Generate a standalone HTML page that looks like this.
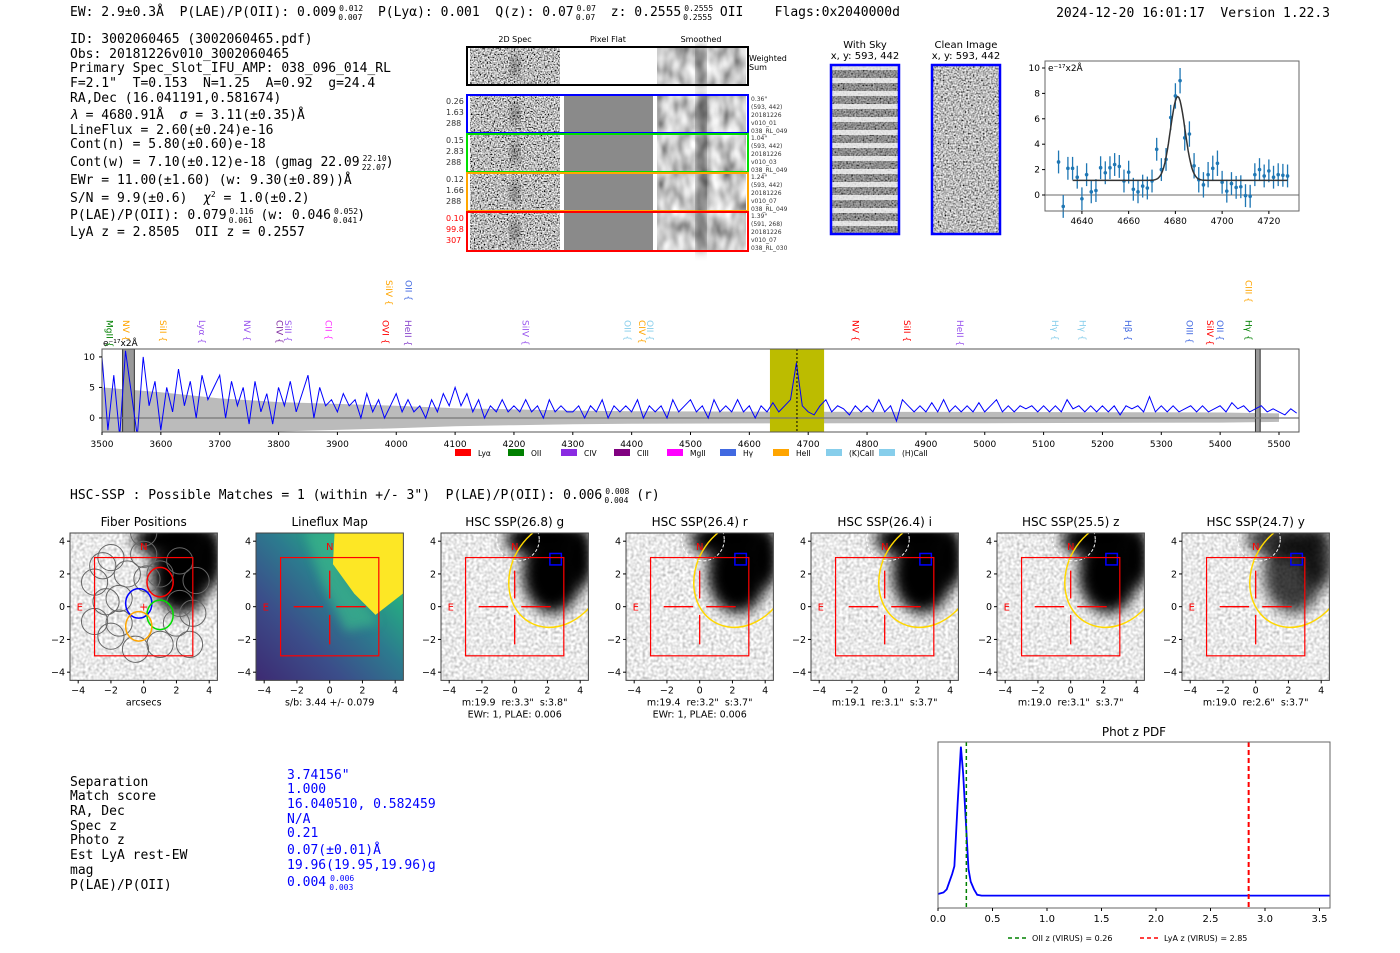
<!DOCTYPE html>
<html><head><meta charset="utf-8">
<style>
html,body{margin:0;padding:0;background:#fff;}
svg{display:block;}
text{white-space:pre;}
.mono{font-family:"DejaVu Sans Mono","Liberation Mono",monospace;}
.sans{font-family:"DejaVu Sans","Liberation Sans",sans-serif;}
</style></head>
<body>
<svg id="root" width="1400" height="953" viewBox="0 0 1400 953" xmlns="http://www.w3.org/2000/svg" xml:space="preserve">
<defs>
<filter id="fNoise" x="0" y="0" width="1" height="1"><feTurbulence type="fractalNoise" baseFrequency="0.7" numOctaves="1" seed="4"/><feColorMatrix type="saturate" values="0"/><feComponentTransfer><feFuncR type="linear" slope="3.2" intercept="-1.1"/><feFuncG type="linear" slope="3.2" intercept="-1.1"/><feFuncB type="linear" slope="3.2" intercept="-1.1"/><feFuncA type="linear" slope="0" intercept="1"/></feComponentTransfer></filter>
<filter id="fSmooth" x="0" y="0" width="1" height="1"><feTurbulence type="fractalNoise" baseFrequency="0.09 0.05" numOctaves="2" seed="9"/><feColorMatrix type="saturate" values="0"/><feComponentTransfer><feFuncR type="linear" slope="1.6" intercept="-0.2"/><feFuncG type="linear" slope="1.6" intercept="-0.2"/><feFuncB type="linear" slope="1.6" intercept="-0.2"/><feFuncA type="linear" slope="0" intercept="1"/></feComponentTransfer></filter>
<filter id="fSky" x="0" y="0" width="1" height="1"><feTurbulence type="fractalNoise" baseFrequency="0.6" numOctaves="1" seed="2"/><feColorMatrix type="saturate" values="0"/><feComponentTransfer><feFuncR type="linear" slope="2.4" intercept="-0.7"/><feFuncG type="linear" slope="2.4" intercept="-0.7"/><feFuncB type="linear" slope="2.4" intercept="-0.7"/><feFuncA type="linear" slope="0" intercept="1"/></feComponentTransfer></filter>
<filter id="fHsc" x="0" y="0" width="1" height="1"><feTurbulence type="fractalNoise" baseFrequency="0.35" numOctaves="1" seed="7"/><feColorMatrix type="saturate" values="0"/><feComponentTransfer><feFuncR type="linear" slope="1.3" intercept="0.17"/><feFuncG type="linear" slope="1.3" intercept="0.17"/><feFuncB type="linear" slope="1.3" intercept="0.17"/><feFuncA type="linear" slope="0" intercept="1"/></feComponentTransfer></filter>
<filter id="fBlur" x="-50%" y="-50%" width="200%" height="200%"><feGaussianBlur stdDeviation="5"/></filter>
<filter id="fBlur2" x="-50%" y="-50%" width="200%" height="200%"><feGaussianBlur stdDeviation="7"/></filter>
<pattern id="skyStripes" width="10" height="13" patternUnits="userSpaceOnUse"><rect width="10" height="13" fill="#333" opacity="0.35"/><rect y="0" width="10" height="5" fill="#fff" opacity="0.75"/></pattern>
<linearGradient id="viridisBg" x1="0" y1="1" x2="1" y2="0"><stop offset="0" stop-color="#3d2a72"/><stop offset="0.3" stop-color="#3b4e8a"/><stop offset="0.55" stop-color="#2c7b8e"/><stop offset="0.75" stop-color="#26a883"/><stop offset="1" stop-color="#7ad151"/></linearGradient>
</defs>

<!-- header -->
<g class="mono" font-size="13" fill="#000">
<text x="70" y="16">EW: 2.9±0.3Å  P(LAE)/P(OII): 0.009<tspan font-size="8" dx="3" dy="-5">0.012</tspan><tspan font-size="8" dx="-25" dy="9">0.007</tspan><tspan dy="-4">  P(Lyα): 0.001  Q(z): 0.07</tspan><tspan font-size="8" dx="3" dy="-5">0.07</tspan><tspan font-size="8" dx="-20" dy="9">0.07</tspan><tspan dy="-4">  z: 0.2555</tspan><tspan font-size="8" dx="3" dy="-5">0.2555</tspan><tspan font-size="8" dx="-30" dy="9">0.2555</tspan><tspan dy="-4"> OII    Flags:0x2040000d</tspan></text>
<text x="1330" y="17" text-anchor="end">2024-12-20 16:01:17  Version 1.22.3</text>
</g>

<g class="mono" font-size="13" fill="#000">
<text x="70" y="43">ID: 3002060465 (3002060465.pdf)</text>
<text x="70" y="58">Obs: 20181226v010_3002060465</text>
<text x="70" y="72">Primary Spec_Slot_IFU_AMP: 038_096_014_RL</text>
<text x="70" y="87">F=2.1"  T=0.153  N=1.25  A=0.92  g=24.4</text>
<text x="70" y="102">RA,Dec (16.041191,0.581674)</text>
<text x="70" y="119"><tspan font-style="italic">λ</tspan> = 4680.91Å  <tspan font-style="italic">σ</tspan> = 3.11(±0.35)Å</text>
<text x="70" y="134">LineFlux = 2.60(±0.24)e-16</text>
<text x="70" y="148">Cont(n) = 5.80(±0.60)e-18</text>
<text x="70" y="166">Cont(w) = 7.10(±0.12)e-18 (gmag 22.09<tspan font-size="8" dx="3" dy="-5">22.10</tspan><tspan font-size="8" dx="-25" dy="9">22.07</tspan><tspan dy="-4">)</tspan></text>
<text x="70" y="184">EWr = 11.00(±1.60) (w: 9.30(±0.89))Å</text>
<text x="70" y="202">S/N = 9.9(±0.6)  <tspan font-style="italic">χ</tspan><tspan font-size="8" dy="-5">2</tspan><tspan dy="5"> = 1.0(±0.2)</tspan></text>
<text x="70" y="219">P(LAE)/P(OII): 0.079<tspan font-size="8" dx="3" dy="-5">0.116</tspan><tspan font-size="8" dx="-25" dy="9">0.061</tspan><tspan dy="-4"> (w: 0.046</tspan><tspan font-size="8" dx="3" dy="-5">0.052</tspan><tspan font-size="8" dx="-25" dy="9">0.041</tspan><tspan dy="-4">)</tspan></text>
<text x="70" y="236">LyA z = 2.8505  OII z = 0.2557</text>
</g>

<g id="spec2d"></g>
<g id="cutouts"></g>
<g id="zoomplot"></g>
<g id="mainspec"></g>

<text x="70" y="499" class="mono" font-size="13">HSC-SSP : Possible Matches = 1 (within +/- 3")  P(LAE)/P(OII): 0.006<tspan font-size="8" dx="3" dy="-5">0.008</tspan><tspan font-size="8" dx="-25" dy="9">0.004</tspan><tspan dy="-4"> (r)</tspan></text>
<g id="thumbs"></g>

<g class="mono" font-size="13">
<g fill="#000">
<text x="70" y="786">Separation</text><text x="70" y="800">Match score</text><text x="70" y="815">RA, Dec</text><text x="70" y="830">Spec z</text><text x="70" y="844">Photo z</text><text x="70" y="859">Est LyA rest-EW</text><text x="70" y="874">mag</text><text x="70" y="889">P(LAE)/P(OII)</text>
</g>
<g fill="#0000ff">
<text x="287" y="779">3.74156"</text><text x="287" y="793">1.000</text><text x="287" y="808">16.040510, 0.582459</text><text x="287" y="823">N/A</text><text x="287" y="837">0.21</text><text x="287" y="854">0.07(±0.01)Å</text><text x="287" y="869">19.96(19.95,19.96)g</text><text x="287" y="886">0.004<tspan font-size="8" dx="4" dy="-5">0.006</tspan><tspan font-size="8" dx="-25" dy="9">0.003</tspan></text>
</g>
</g>

<g id="pdfplot"></g>
</svg>

<script>
// ---------- main spectrum data (flux in 1e-17 per 2Å, every 10 Å from 3500) ----------
const specStart = 3500;
const specStep = 10;
const specFlux = [
10,-2,7,-3,11,4,-3,10,2,6,
-2,5,1,8,2,6,0,7,3,5,
7,0,6,2,5,-1,6,1,4,-1,
5,2,6,1,4,7,0,5,2,3,
1,4,2,3,0,4,1,3,0,2,
4,1,3,1,2,0,3,1,4,2,
5,2,4,1,3,0,2,1,3,1,
2,1,3,1,2,0,3,1,2,1,
1,2,0,2,1,3,0,2,1,2,
1,3,0,2,1,2,0,3,1,2,
3,1,2,0,3,1,2,1,3,1,
2,0,2,1,2.5,1,2,3,9,2,
1,0.5,2,3,1,2,1.5,0.5,2,1,
2,1,3,1,2,-0.5,3,2,1,2,
1,2.5,1,3,1,2,1,2,1,2.5,
1,2,3,1,2,1,2,1.5,2,1,
2,1,2,1,3,1.5,2,1,2,1,
2,1,2,0.5,2,1.5,2,1,3.5,1,
2,1,2,1,1.5,2,1,2,1,1.5,
2,1,2.5,1.5,2,1,1.5,2,1,1.5,
1,0.5,1.5,0.8
];
const errWave = [3500,3600,3700,3800,3900,4000,4100,4200,4300,4400,4600,4800,5000,5200,5400,5500];
const errVal  = [5.0,4.2,3.2,2.6,2.3,2.0,1.6,1.4,1.2,1.1,1.05,1.0,1.0,0.95,0.9,0.75];
const specTicks = [3500,3600,3700,3800,3900,4000,4100,4200,4300,4400,4500,4600,4700,4800,4900,5000,5100,5200,5300,5400,5500];
const specYTicks = [0,5,10];
const lineLabels = [
 ["MgII",3513,"#008000",0],["NV",3541,"#ffa500",0],["SiII",3604,"#ffa500",0],["Lyα",3670,"#9955ee",0],
 ["NV",3746,"#9955ee",0],["CIV",3802,"#7f2a9f",0],["SiII",3816,"#9955ee",0],["CII",3885,"#ff33ff",0],
 ["OVI",3982,"#ff0000",0],["HeII",4020,"#8844cc",0],["SiIV",4220,"#9955ee",0],["OII",4393,"#87ceeb",0],
 ["CIV",4418,"#ffa500",0],["OII",4431,"#87ceeb",0],["NV",4780,"#ff0000",0],["SiII",4868,"#ff0000",0],
 ["HeII",4958,"#9955ee",0],["Hγ",5119,"#87ceeb",0],["Hγ",5166,"#87ceeb",0],["Hβ",5243,"#4169e1",0],
 ["OIII",5348,"#4169e1",0],["SiIV",5383,"#ff0000",0],["OII",5400,"#4169e1",0],["Hγ",5448,"#008000",0],
 ["SiIV",3988,"#ffa500",1],["OII",4021,"#4169e1",1],["CIII",5448,"#ffa500",1]
];
const legendNames = ["Lyα","OII","CIV","CIII","MgII","Hγ","HeII","(K)CaII","(H)CaII"];
const legendColors = ["#ff0000","#008000","#8a2be2","#800080","#ff00ff","#4169e1","#ffa500","#87ceeb","#87ceeb"];

// ---------- line fit data ----------
const fitWave = [4630,4632,4634,4636,4638,4640,4642,4644,4646,4648,4650,4652,4654,4656,4658,4660,4662,4664,4666,4668,4670,4672,4674,4676,4678,4680,4682,4684,4686,4688,4690,4692,4694,4696,4698,4700,4702,4704,4706,4708,4710,4712,4714,4716,4718,4720,4722,4724,4726,4728];
const fitFlux = [2.6,-0.9,2.1,2.1,1.4,-0.3,1.6,0.25,0.35,2.15,1.75,2.15,2.4,2.25,1.1,1.8,0.45,0.25,0.7,0.55,1.1,3.6,2.0,2.8,6.1,7.8,9.0,4.5,4.8,2.3,1.2,0.8,1.6,2.1,2.5,1.0,0.3,0.9,0.6,0.65,-0.05,-0.1,1.6,2.0,1.5,1.9,1.4,1.6,1.55,1.5];
const fitErr = [0.9,0.9,0.9,0.9,0.9,0.9,0.9,0.9,0.9,0.9,0.9,0.9,0.9,0.9,0.9,0.9,0.9,0.9,0.9,0.9,0.9,0.9,0.9,0.9,1.0,1.0,1.0,1.0,1.0,1.0,1.0,1.0,1.0,1.0,1.0,0.9,0.9,0.9,0.9,0.9,0.9,0.9,0.9,0.9,0.9,0.9,0.9,0.9,0.9,0.9];
const fitModel = [4681.0, 3.11, 6.6, 1.15]; // center, sigma, amplitude, continuum
const fitXTicks = [4640,4660,4680,4700,4720];
const fitYTicks = [0,2,4,6,8,10];

// ---------- phot-z PDF ----------
const pdfZ = [0,0.05,0.08,0.1,0.13,0.15,0.18,0.21,0.23,0.25,0.28,0.3,0.33,0.36,0.4,1.0,2.0,3.0,3.6];
const pdfP = [0.02,0.03,0.05,0.09,0.15,0.2,0.6,0.97,0.8,0.55,0.18,0.1,0.05,0.015,0.01,0.01,0.01,0.01,0.01];
const pdfTicks = [0.0,0.5,1.0,1.5,2.0,2.5,3.0,3.5];
const zOII = 0.26, zLyA = 2.85;

// ---------- thumbnails ----------
const thumbTitles = ["Fiber Positions","Lineflux Map","HSC SSP(26.8) g","HSC SSP(26.4) r","HSC SSP(26.4) i","HSC SSP(25.5) z","HSC SSP(24.7) y"];
const thumbCaps1 = ["arcsecs","s/b: 3.44 +/- 0.079",'m:19.9  re:3.3"  s:3.8"','m:19.4  re:3.2"  s:3.7"','m:19.1  re:3.1"  s:3.7"','m:19.0  re:3.1"  s:3.7"','m:19.0  re:2.6"  s:3.7"'];
const thumbCaps2 = ["","","EWr: 1, PLAE: 0.006","EWr: 1, PLAE: 0.006","","",""];
const thumbTicks = [-4,-2,0,2,4];

const NS = "http://www.w3.org/2000/svg";
function mk(parent, tag, attrs, txt){
  const e = document.createElementNS(NS, tag);
  for (const k in attrs) e.setAttribute(k, attrs[k]);
  if (txt !== undefined) e.textContent = txt;
  parent.appendChild(e);
  return e;
}
const FS = '"DejaVu Sans","Liberation Sans",sans-serif';

// ====== 2D spectra panel ======
(function(){
  const g = document.getElementById('spec2d');
  const hdr = [["2D Spec",515],["Pixel Flat",608],["Smoothed",701]];
  hdr.forEach(h=>{ const t = mk(g,'text',{x:h[1],y:42,'font-size':8,'text-anchor':'middle','font-family':FS},h[0]);
    
     });
  const rows = [[47,85,"#000",null],[95,133,"#0000ff",["0.26","1.63","288"]],[134,172,"#00dd00",["0.15","2.83","288"]],[173,211,"#ffa500",["0.12","1.66","288"]],[212,251,"#ff0000",["0.10","99.8","307"]]];
  const side = [null,['0.36"','(593, 442)','20181226','v010_01','038_RL_049'],['1.04"','(593, 442)','20181226','v010_03','038_RL_049'],['1.24"','(593, 442)','20181226','v010_07','038_RL_049'],['1.39"','(591, 268)','20181226','v010_07','038_RL_030']];
  rows.forEach((r,i)=>{
    const y0=r[0], h=r[1]-r[0];
    const n = mk(g,'rect',{x:470,y:y0,width:90,height:h,filter:'url(#fNoise)'});
    
    
    const blob = mk(g,'ellipse',{cx:515,cy:y0+h/2,rx:3,ry:h*0.3,fill:'#000',opacity:0.6,filter:'url(#fBlur)'});
    
    
    const pf = mk(g,'rect',{x:564,y:y0,width:89,height:h,fill:i===0?'#fff':'#8a8a8a'});
    
    
    const sm = mk(g,'rect',{x:657,y:y0,width:89,height:h,filter:'url(#fSmooth)'});
    
    
    const st = mk(g,'rect',{x:698,y:y0,width:6,height:h,fill:'#000',opacity:0.8,filter:'url(#fBlur)'});
    
    
    const b = mk(g,'rect',{x:467,y:y0,width:281,height:h,fill:'none',stroke:r[2],'stroke-width':2});
    
    
    if(r[3]){ r[3].forEach((s,k)=>{ const t=mk(g,'text',{x:446,y:y0+9+k*11,'font-size':8,fill:i===4?'#ff0000':'#333','font-family':FS},s);
      
       }); }
    if(side[i]){ side[i].forEach((s,k)=>{ const t=mk(g,'text',{x:751,y:y0+6+k*8,'font-size':6,fill:'#333','font-family':FS},s);
      
       }); }
  });
  const w1 = mk(g,'text',{x:749,y:61,'font-size':8,'font-family':FS},'Weighted');
  
  
  const w2 = mk(g,'text',{x:749,y:70,'font-size':8,'font-family':FS},'Sum');
  
  
})();

// ====== sky cutouts ======
(function(){
  const g = document.getElementById('cutouts');
  [[865,"With Sky",true],[966,"Clean Image",false]].forEach(c=>{
    const t1=mk(g,'text',{x:c[0],y:48,'font-size':10,'text-anchor':'middle','font-family':FS},c[1]);
    
    
    const t2=mk(g,'text',{x:c[0],y:59,'font-size':10,'text-anchor':'middle','font-family':FS},'x, y: 593, 442');
    
    
    const r=mk(g,'rect',{x:c[0]-34,y:65,width:68,height:169,filter:'url(#fSky)'});
    
    
    if(c[2]){ const s=mk(g,'rect',{x:c[0]-34,y:65,width:68,height:169,fill:'url(#skyStripes)'});
      
       }
    const b=mk(g,'rect',{x:c[0]-34,y:65,width:68,height:169,fill:'none',stroke:'#0000ff','stroke-width':2.5});
    
    
  });
})();

// ====== line fit plot ======
(function(){
  const g = document.getElementById('zoomplot');
  const L=1045,R=1299,T=61,B=211, x0=4624.2,x1=4732.9, y0=-1.26,y1=10.55;
  const X=w=>L+(w-x0)/(x1-x0)*(R-L), Y=v=>B-(v-y0)/(y1-y0)*(B-T);
  const z=mk(g,'line',{x1:L,x2:R,y1:Y(0),y2:Y(0),stroke:'#888','stroke-width':1.2});
  
  
  fitWave.forEach((w,i)=>{
    const eb=mk(g,'line',{x1:X(w),x2:X(w),y1:Y(fitFlux[i]-fitErr[i]),y2:Y(fitFlux[i]+fitErr[i]),stroke:'#1f77b4','stroke-width':1.3});
    
    
    const p=mk(g,'circle',{cx:X(w),cy:Y(fitFlux[i]),r:1.8,fill:'#1f77b4'});
    
    
  });
  let d='';
  for(let w=4636; w<=4728; w+=0.5){
    const v=fitModel[3]+fitModel[2]*Math.exp(-0.5*Math.pow((w-fitModel[0])/fitModel[1],2));
    d+=(d?'L':'M')+X(w).toFixed(1)+','+Y(v).toFixed(1);
  }
  const fl=mk(g,'path',{d:d,fill:'none',stroke:'#333','stroke-width':1.5});
  
  
  const ax=mk(g,'rect',{x:L,y:T,width:R-L,height:B-T,fill:'none',stroke:'#666','stroke-width':1});
  
  
  fitXTicks.forEach(t=>{ mk(g,'line',{x1:X(t),x2:X(t),y1:B,y2:B+3,stroke:'#000'});
    const tx=mk(g,'text',{x:X(t),y:B+13,'font-size':9,'text-anchor':'middle','font-family':FS},t);
    
     });
  fitYTicks.forEach(t=>{ mk(g,'line',{x1:L-3,x2:L,y1:Y(t),y2:Y(t),stroke:'#000'});
    const tx=mk(g,'text',{x:L-5,y:Y(t)+3,'font-size':9,'text-anchor':'end','font-family':FS},t);
    
     });
  const u=mk(g,'text',{x:L+3,y:T+10,'font-size':9,'font-family':FS},'e⁻¹⁷x2Å');
  
  
})();

// ====== main spectrum ======
(function(){
  const g = document.getElementById('mainspec');
  const L=102,R=1299,T=349,B=432, x0=3500,x1=3500+(R-L)/0.5885, y0=-2.3,y1=11.3;
  const X=w=>L+(w-x0)/(x1-x0)*(R-L), Y=v=>B-(v-y0)/(y1-y0)*(B-T);
  const cp=mk(g,'clipPath',{id:'specClip'}); mk(cp,'rect',{x:L,y:T,width:R-L,height:B-T});
  const inner=mk(g,'g',{'clip-path':'url(#specClip)'});
  
  
  let top='',bot='';
  for(let i=0;i<errWave.length;i++){ top+=(i?'L':'M')+X(errWave[i]).toFixed(1)+','+Y(errVal[i]).toFixed(1); }
  for(let i=errWave.length-1;i>=0;i--){ bot+='L'+X(errWave[i]).toFixed(1)+','+Y(-errVal[i]*0.85).toFixed(1); }
  const band=mk(inner,'path',{d:top+bot+'Z',fill:'#bbbbbb'});
  
  
  const yb=mk(inner,'rect',{x:X(4635),y:T,width:X(4727)-X(4635),height:B-T,fill:'#bcbc00'});
  
  
  [[3535,3555],[5460,5468]].forEach(m=>{ const r=mk(inner,'rect',{x:X(m[0]),y:T,width:X(m[1])-X(m[0]),height:B-T,fill:'#999',stroke:'#333'});
    
     });
  const z=mk(inner,'line',{x1:L,x2:R,y1:Y(0),y2:Y(0),stroke:'#777','stroke-width':1.3});
  
  
  let d='';
  specFlux.forEach((v,i)=>{ d+=(i?'L':'M')+X(specStart+i*specStep).toFixed(1)+','+Y(v).toFixed(1); });
  const sl=mk(inner,'path',{d:d,fill:'none',stroke:'#0000ff','stroke-width':1});
  
  
  const dl=mk(inner,'line',{x1:X(4680.9),x2:X(4680.9),y1:T,y2:B,stroke:'#000','stroke-dasharray':'2,2'});
  
  
  const ax=mk(g,'rect',{x:L,y:T,width:R-L,height:B-T,fill:'none',stroke:'#555'});
  
  
  specTicks.forEach(t=>{ mk(g,'line',{x1:X(t),x2:X(t),y1:B,y2:B+3,stroke:'#000'});
    const tx=mk(g,'text',{x:X(t),y:B+15,'font-size':9,'text-anchor':'middle','font-family':FS},t);
    
     });
  specYTicks.forEach(t=>{ mk(g,'line',{x1:L-3,x2:L,y1:Y(t),y2:Y(t),stroke:'#000'});
    const tx=mk(g,'text',{x:L-7,y:Y(t)+3,'font-size':9,'text-anchor':'end','font-family':FS},t);
    
     });
  const u=mk(g,'text',{x:103,y:346,'font-size':9,'font-family':FS},'e⁻¹⁷x2Å');
  
  
  lineLabels.forEach(l=>{
    const x=X(l[1]), y=l[3]?280:320;
    const t=mk(g,'text',{x:0,y:0,'font-size':9,fill:l[2],'font-family':FS,transform:'translate('+(x-3)+','+y+') rotate(90)'},l[0]+' {');
    
    
  });
  legendNames.forEach((n,i)=>{
    const lx=455+i*53;
    const r=mk(g,'rect',{x:lx,y:449,width:16,height:7,fill:legendColors[i]});
    
    
    const t=mk(g,'text',{x:lx+23,y:456,'font-size':7.5,'font-family':FS},n);
    
    
  });
})();

// ====== thumbnails ======
(function(){
  const g=document.getElementById('thumbs');
  const lefts=[70,256,441,626,811,997,1182], T=533, s=131/8, W=9*s;
  thumbTitles.forEach((title,i)=>{
    const L=lefts[i];
    const X=a=>L+(a+4.5)*s, Y=b=>T+(4.5-b)*s;
    const gp=mk(g,'g',{});
    
    
    const cp=mk(gp,'clipPath',{id:'tc'+i}); mk(cp,'rect',{x:L,y:T,width:W,height:W});
    const inner=mk(gp,'g',{'clip-path':'url(#tc'+i+')'});
    if(i===1){
      mk(inner,'rect',{x:L,y:T,width:W,height:W,fill:'url(#viridisBg)'});
      mk(inner,'polygon',{points:X(-1.5)+','+Y(4.6)+' '+X(0.5)+','+Y(4.6)+' '+X(0.8)+','+Y(2)+' '+X(3)+','+Y(-1)+' '+X(1)+','+Y(-1.5)+' '+X(-0.5)+','+Y(1.5),fill:'#3bb58a',opacity:0.7,filter:'url(#fBlur)'});
      const yl=mk(inner,'polygon',{points:X(0.3)+','+Y(4.6)+' '+X(4.6)+','+Y(4.6)+' '+X(4.6)+','+Y(0.9)+' '+X(2.8)+','+Y(-0.5)+' '+X(1.5)+','+Y(0.8)+' '+X(0.2)+','+Y(2.6),fill:'#fde725'});
      
      
    } else {
      mk(inner,'rect',{x:L,y:T,width:W,height:W,filter:'url(#fHsc)'});
      const op = i===6?0.75:1;
      const b1=mk(inner,'ellipse',{cx:X(2.3),cy:Y(2.0),rx:1.8*s,ry:2.4*s,fill:'#000',opacity:op,filter:'url(#fBlur2)'});
      
      
      mk(inner,'ellipse',{cx:X(1.8),cy:Y(4.1),rx:2.4*s,ry:1.1*s,fill:'#000',opacity:op,filter:'url(#fBlur2)'});
      mk(inner,'ellipse',{cx:X(3.8),cy:Y(3),rx:1.0*s,ry:1.8*s,fill:'#000',opacity:op,filter:'url(#fBlur2)'});
    }
    if(i===0){
      const fib=[[-3,1.5],[-2,3],[-1.5,0.5],[-3,-0.9],[-2,-1.8],[-1,2],[0,3.2],[1,2],[2.2,2.8],[2.2,0.2],[3.2,1.6],[-0.5,-2.6],[1,-2.3],[2,-1],[3,-0.4],[-1.5,-1],[2.8,-2.3],[0.2,1.7],[-2.5,2.5],[0,4.5],[-2.3,0.3]];
      fib.forEach(f=>{ const c=mk(inner,'circle',{cx:X(f[0]),cy:Y(f[1]),r:0.8*s,fill:'none',stroke:'#666','stroke-width':1});
        
         });
      [[-0.3,0.2,'#0000ff'],[1,1.5,'#ff0000'],[1,-0.5,'#00dd00'],[-0.3,-1.2,'#ffa500']].forEach(f=>{
        const c=mk(inner,'ellipse',{cx:X(f[0]),cy:Y(f[1]),rx:0.8*s,ry:0.9*s,fill:'none',stroke:f[2],'stroke-width':1.5});
        
         });
      mk(inner,'text',{x:X(0),y:Y(0)+4,'font-size':11,fill:'#f00','text-anchor':'middle','font-family':FS},'+');
    }
    if(i>=2){
      const el=mk(inner,'ellipse',{cx:X(2.6),cy:Y(2.0),rx:2.8*s,ry:3.4*s,fill:'none',stroke:'#ffd700','stroke-width':1.5,transform:'rotate(30 '+X(2.6)+' '+Y(2.0)+')'});
      
      
      const dc=mk(inner,'circle',{cx:X(0.2),cy:Y(4.1),r:1.3*s,fill:'none',stroke:'#fff','stroke-width':1,'stroke-dasharray':'3,2'});
      
      
      const bs=mk(inner,'rect',{x:X(2.15),y:Y(3.25),width:0.7*s,height:0.7*s,fill:'none',stroke:'#0000ff','stroke-width':1.5});
      
      
    }
    const sq=mk(inner,'rect',{x:X(-3),y:Y(3),width:6*s,height:6*s,fill:'none',stroke:'#ff0000','stroke-width':1.2});
    
    
    if(i>=1){
      [[-2.2,0,-0.4,0],[0.4,0,2.2,0],[0,0.5,0,2.2],[0,-0.5,0,-2.3]].forEach(c=>{
        const ln=mk(inner,'line',{x1:X(c[0]),y1:Y(c[1]),x2:X(c[2]),y2:Y(c[3]),stroke:'#ff0000','stroke-width':1.3});
        
         });
    }
    const n=mk(inner,'text',{x:X(0),y:Y(3.7)+4,'font-size':10,fill:'#ff0000','text-anchor':'middle','font-family':FS},'N');
    
    
    const e=mk(inner,'text',{x:X(-3.9),y:Y(0)+4,'font-size':10,fill:'#ff0000','text-anchor':'middle','font-family':FS},'E');
    
    
    const fr=mk(gp,'rect',{x:L,y:T,width:W,height:W,fill:'none',stroke:'#444'});
    
    
    const tt=mk(gp,'text',{x:L+W/2,y:T-7,'font-size':12,'text-anchor':'middle','font-family':FS},title);
    
    
    thumbTicks.forEach(t=>{
      mk(gp,'line',{x1:X(t),x2:X(t),y1:T+W,y2:T+W+3,stroke:'#000'});
      const tx=mk(gp,'text',{x:X(t),y:T+W+13,'font-size':9.5,'text-anchor':'middle','font-family':FS},t<0?'−'+(-t):t);
      
      
      mk(gp,'line',{x1:L-3,x2:L,y1:Y(t),y2:Y(t),stroke:'#000'});
      const ty=mk(gp,'text',{x:L-5,y:Y(t)+3.5,'font-size':9.5,'text-anchor':'end','font-family':FS},t<0?'−'+(-t):t);
      
      
    });
    const c1=mk(gp,'text',{x:L+W/2,y:T+W+25,'font-size':9.5,'text-anchor':'middle','font-family':FS},thumbCaps1[i]);
    
    
    if(thumbCaps2[i]){ const c2=mk(gp,'text',{x:L+W/2,y:T+W+37,'font-size':9.5,'text-anchor':'middle','font-family':FS},thumbCaps2[i]);
      
       }
  });
})();

// ====== phot z PDF ======
(function(){
  const g=document.getElementById('pdfplot');
  const L=938,R=1330,T=742,B=908, x0=0,x1=(R-L)/109, y0=-0.07,y1=1.0;
  const X=v=>L+(v-x0)/(x1-x0)*(R-L), Y=v=>B-(v-y0)/(y1-y0)*(B-T);
  let d=''; pdfZ.forEach((z,i)=>{ d+=(i?'L':'M')+X(z).toFixed(1)+','+Y(pdfP[i]).toFixed(1); });
  const p=mk(g,'path',{d:d,fill:'none',stroke:'#0000ff','stroke-width':1.8});
  
  
  const l1=mk(g,'line',{x1:X(zOII),x2:X(zOII),y1:T,y2:B,stroke:'#008000','stroke-width':1.5,'stroke-dasharray':'4,3'});
  
  
  const l2=mk(g,'line',{x1:X(zLyA),x2:X(zLyA),y1:T,y2:B,stroke:'#ff0000','stroke-width':2,'stroke-dasharray':'5,3'});
  
  
  const fr=mk(g,'rect',{x:L,y:T,width:R-L,height:B-T,fill:'none',stroke:'#666'});
  
  
  pdfTicks.forEach(t=>{ mk(g,'line',{x1:X(t),x2:X(t),y1:B,y2:B+3,stroke:'#000'});
    const tx=mk(g,'text',{x:X(t),y:B+14,'font-size':10,'text-anchor':'middle','font-family':FS},t.toFixed(1));
    
     });
  const tt=mk(g,'text',{x:(L+R)/2,y:736,'font-size':12,'text-anchor':'middle','font-family':FS},'Phot z PDF');
  
  
  mk(g,'line',{x1:1008,x2:1026,y1:938,y2:938,stroke:'#008000','stroke-width':1.5,'stroke-dasharray':'4,3'});
  const a=mk(g,'text',{x:1032,y:941,'font-size':8,'font-family':FS},'OII z (VIRUS) = 0.26');
  
  
  mk(g,'line',{x1:1140,x2:1158,y1:938,y2:938,stroke:'#ff0000','stroke-width':1.5,'stroke-dasharray':'4,3'});
  const b=mk(g,'text',{x:1164,y:941,'font-size':8,'font-family':FS},'LyA z (VIRUS) = 2.85');
  
  
})();
</script>
</body></html>
